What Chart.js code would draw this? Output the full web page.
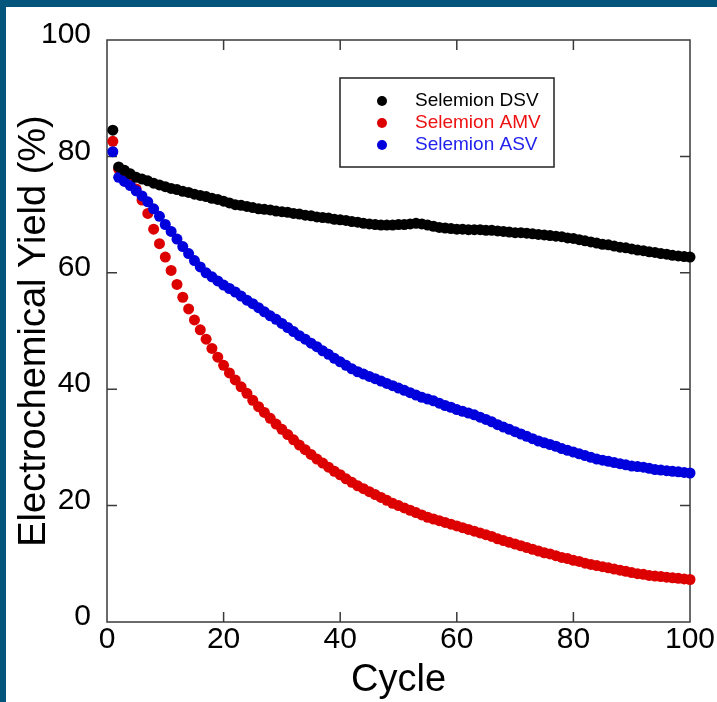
<!DOCTYPE html>
<html>
<head>
<meta charset="utf-8">
<script src="https://cdn.jsdelivr.net/npm/chart.js@4.4.0/dist/chart.umd.min.js"></script>
<style>
  html, body { margin: 0; padding: 0; background: #03557b; overflow: hidden; }
  #panel { position: absolute; left: 6px; top: 7px; width: 711px; height: 695px; background: #fff; }
</style>
</head>
<body>
<div id="panel"><canvas id="chart" width="711" height="695"></canvas></div>
<script>
const cycles = [
  1, 2, 3, 4, 5, 6, 7, 8, 9, 10, 11, 12, 13, 14, 15, 16, 17, 18, 19, 20,
  21, 22, 23, 24, 25, 26, 27, 28, 29, 30, 31, 32, 33, 34, 35, 36, 37, 38, 39, 40,
  41, 42, 43, 44, 45, 46, 47, 48, 49, 50, 51, 52, 53, 54, 55, 56, 57, 58, 59, 60,
  61, 62, 63, 64, 65, 66, 67, 68, 69, 70, 71, 72, 73, 74, 75, 76, 77, 78, 79, 80,
  81, 82, 83, 84, 85, 86, 87, 88, 89, 90, 91, 92, 93, 94, 95, 96, 97, 98, 99, 100,
];

// Selemion DSV (black)
const yield_dsv = [
  84.5, 78.2, 77.6, 77.0, 76.4, 76.1, 75.8, 75.4, 75.1, 74.8,
  74.5, 74.3, 74.0, 73.8, 73.5, 73.3, 73.1, 72.8, 72.6, 72.3,
  72.0, 71.7, 71.6, 71.4, 71.2, 71.0, 70.9, 70.8, 70.6, 70.5,
  70.4, 70.2, 70.1, 69.9, 69.8, 69.6, 69.5, 69.4, 69.2, 69.1,
  69.0, 68.8, 68.7, 68.5, 68.4, 68.3, 68.2, 68.2, 68.2, 68.3,
  68.3, 68.4, 68.5, 68.4, 68.2, 68.0, 67.8, 67.7, 67.6, 67.5,
  67.5, 67.4, 67.4, 67.4, 67.3, 67.3, 67.2, 67.1, 67.0, 66.9,
  66.9, 66.8, 66.7, 66.6, 66.5, 66.4, 66.3, 66.2, 66.0, 65.9,
  65.7, 65.5, 65.3, 65.1, 64.9, 64.8, 64.6, 64.4, 64.3, 64.1,
  63.9, 63.8, 63.6, 63.5, 63.3, 63.2, 63.0, 62.9, 62.8, 62.7,
];

// Selemion AMV (red)
const yield_amv = [
  82.6, 77.8, 77.0, 75.9, 74.4, 72.5, 70.2, 67.5, 65.0, 62.7,
  60.4, 58.0, 55.8, 53.8, 51.9, 50.2, 48.6, 47.0, 45.5, 44.1,
  42.8, 41.6, 40.4, 39.3, 38.1, 37.0, 36.0, 35.0, 34.0, 33.1,
  32.2, 31.3, 30.4, 29.6, 28.8, 28.0, 27.3, 26.6, 25.9, 25.3,
  24.6, 24.0, 23.4, 22.9, 22.4, 21.9, 21.4, 20.9, 20.4, 20.0,
  19.6, 19.2, 18.8, 18.4, 18.0, 17.7, 17.4, 17.1, 16.8, 16.5,
  16.2, 15.9, 15.6, 15.3, 15.0, 14.7, 14.3, 14.0, 13.7, 13.4,
  13.1, 12.8, 12.5, 12.2, 11.9, 11.7, 11.4, 11.1, 10.9, 10.6,
  10.4, 10.1, 9.9, 9.7, 9.5, 9.3, 9.1, 8.9, 8.7, 8.5,
  8.3, 8.2, 8.0, 7.9, 7.8, 7.7, 7.6, 7.5, 7.4, 7.3,
];

// Selemion ASV (blue)
const yield_asv = [
  80.8, 76.4, 75.7, 75.0, 74.1, 73.2, 72.2, 71.0, 69.7, 68.3,
  67.1, 65.8, 64.5, 63.3, 62.1, 61.0, 60.0, 59.3, 58.6, 57.9,
  57.3, 56.7, 56.0, 55.3, 54.7, 54.0, 53.3, 52.6, 52.0, 51.3,
  50.6, 49.9, 49.2, 48.6, 47.9, 47.3, 46.6, 46.0, 45.3, 44.7,
  44.1, 43.5, 43.0, 42.6, 42.2, 41.8, 41.4, 41.0, 40.6, 40.2,
  39.8, 39.4, 39.0, 38.6, 38.3, 38.0, 37.6, 37.2, 36.9, 36.5,
  36.2, 35.9, 35.6, 35.2, 34.8, 34.4, 33.9, 33.5, 33.1, 32.7,
  32.3, 31.9, 31.5, 31.1, 30.8, 30.5, 30.2, 29.8, 29.5, 29.2,
  28.9, 28.6, 28.3, 28.0, 27.8, 27.6, 27.4, 27.2, 27.0, 26.8,
  26.7, 26.6, 26.4, 26.2, 26.1, 26.0, 25.9, 25.8, 25.7, 25.6,
];

const x_ticks = [0, 20, 40, 60, 80, 100];
const y_ticks = [0, 20, 40, 60, 80, 100];

const series_names = ["Selemion DSV", "Selemion AMV", "Selemion ASV"];
const series_colors = ["#000000", "#dd0000", "#0000dd"];
const legend_text_colors = ["#000000", "#ee1111", "#2222ee"];

const font_family = "'Liberation Sans', Arial, sans-serif";

const to_points = (values) => values.map((v, i) => ({ x: cycles[i], y: v }));

// box + inward tick marks on all four sides
const frame_plugin = {
  id: "frame",
  beforeDatasetsDraw(chart) {
    const { ctx, chartArea: a, scales } = chart;
    ctx.save();
    ctx.strokeStyle = "#3a3a3a";
    ctx.lineWidth = 1.5;
    ctx.strokeRect(a.left, a.top, a.right - a.left, a.bottom - a.top);
    ctx.beginPath();
    for (const v of x_ticks.slice(1, -1)) {
      const px = scales.x.getPixelForValue(v);
      ctx.moveTo(px, a.bottom);
      ctx.lineTo(px, a.bottom - 10);
      ctx.moveTo(px, a.top);
      ctx.lineTo(px, a.top + 10);
    }
    for (const v of y_ticks.slice(1, -1)) {
      const py = scales.y.getPixelForValue(v);
      ctx.moveTo(a.left, py);
      ctx.lineTo(a.left + 10, py);
      ctx.moveTo(a.right, py);
      ctx.lineTo(a.right - 10, py);
    }
    ctx.stroke();
    ctx.restore();
  },
};

// legend box sitting inside the plot
const legend_plugin = {
  id: "inner_legend",
  afterDraw(chart) {
    const { ctx, chartArea: a } = chart;
    const left = a.left + 233;
    const top = a.top + 38;
    ctx.save();
    ctx.strokeStyle = "#222";
    ctx.lineWidth = 1.5;
    ctx.strokeRect(left, top, 214, 89);
    ctx.font = "19px " + font_family;
    ctx.textBaseline = "middle";
    series_names.forEach((name, i) => {
      const y = top + 23 + i * 22;
      ctx.fillStyle = series_colors[i];
      ctx.beginPath();
      ctx.arc(left + 42, y, 5, 0, Math.PI * 2);
      ctx.fill();
      ctx.fillStyle = legend_text_colors[i];
      ctx.fillText(name, left + 75, y);
    });
    ctx.restore();
  },
};

const make_dataset = (i, values) => ({
  label: series_names[i],
  data: to_points(values),
  showLine: false,
  pointRadius: 5.5,
  pointBorderWidth: 0,
  pointBackgroundColor: series_colors[i],
  pointBorderColor: series_colors[i],
  clip: false,
});

new Chart(document.getElementById("chart"), {
  type: "scatter",
  data: {
    // first dataset is drawn on top
    datasets: [
      make_dataset(0, yield_dsv),
      make_dataset(2, yield_asv),
      make_dataset(1, yield_amv),
    ],
  },
  options: {
    responsive: false,
    animation: false,
    devicePixelRatio: 1,
    layout: { padding: { left: 0, top: 33, right: 27, bottom: 0 } },
    plugins: { legend: { display: false }, tooltip: { enabled: false } },
    scales: {
      x: {
        type: "linear",
        min: 0,
        max: 100,
        afterBuildTicks: (s) => { s.ticks = x_ticks.map((v) => ({ value: v })); },
        afterFit: (s) => { s.height = 80; },
        grid: { display: false },
        border: { display: false },
        ticks: { color: "#000", padding: -8, font: { size: 30, family: font_family } },
        title: {
          display: true,
          text: "Cycle",
          color: "#000",
          font: { size: 38, family: font_family, lineHeight: 1.2 },
          padding: { top: 0, bottom: -1 },
        },
      },
      y: {
        type: "linear",
        min: 0,
        max: 100,
        afterBuildTicks: (s) => { s.ticks = y_ticks.map((v) => ({ value: v })); },
        afterFit: (s) => { s.width = 101; },
        grid: { display: false },
        border: { display: false },
        ticks: { color: "#000", padding: 8, labelOffset: -5, font: { size: 30, family: font_family } },
        title: {
          display: true,
          text: "Electrochemical Yield (%)",
          color: "#000",
          font: { size: 38, family: font_family, lineHeight: 1.2 },
          padding: { top: 6, bottom: 0 },
        },
      },
    },
  },
  plugins: [frame_plugin, legend_plugin],
});
</script>
</body>
</html>
